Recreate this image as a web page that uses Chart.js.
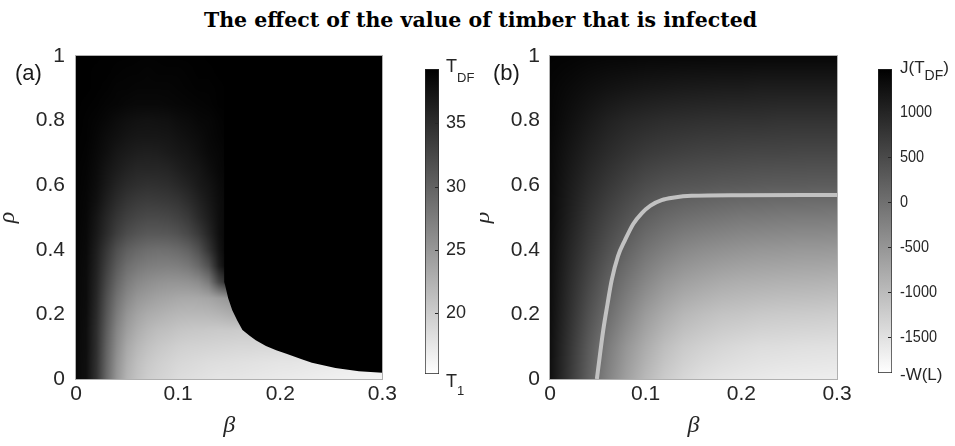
<!DOCTYPE html>
<html>
<head>
<meta charset="utf-8">
<script src="https://cdn.jsdelivr.net/npm/chart.js@4.4.1/dist/chart.umd.min.js"></script>
<style>
  body { margin: 0; background: #fff; width: 955px; height: 446px; position: relative; overflow: hidden; }
  canvas { position: absolute; top: 0; }
  #title { position: absolute; left: 3px; top: 5px; width: 955px; text-align: center;
           font: bold 20.5px 'DejaVu Serif', serif; line-height: 30px; color: #000; }
</style>
</head>
<body>
<div id="title">The effect of the value of timber that is infected</div>
<canvas id="panelA" width="400" height="446" style="left:0px"></canvas>
<canvas id="barA" width="80" height="446" style="left:400px"></canvas>
<canvas id="panelB" width="380" height="446" style="left:480px"></canvas>
<canvas id="barB" width="95" height="446" style="left:860px"></canvas>
<script>
// axis ticks
const betaTicks = [0, 0.1, 0.2, 0.3];
const rhoTicks = [0, 0.2, 0.4, 0.6, 0.8, 1];

// (a) T over (beta, rho); row 0 is rho = 0
const betaA = [0,0.01,0.02,0.03,0.04,0.05,0.06,0.07,0.08,0.09,0.1,0.11,0.12,0.13,0.14,0.15,0.16,0.17,0.18,0.19,0.2,0.21,0.22,0.23,0.24,0.25,0.26,0.27,0.28,0.29,0.3];
const rhoA = [0,0.05,0.1,0.15,0.2,0.25,0.3,0.35,0.4,0.45,0.5,0.55,0.6,0.65,0.7,0.75,0.8,0.85,0.9,0.95,1];
const tempA = [
  [38.5,37.9,34.6,29.4,25.1,22.3,20.9,19.9,19.4,19.0,18.5,18.3,18.1,17.9,17.7,17.7,17.6,17.5,17.4,17.3,17.2,17.1,17.0,16.9,16.8,16.7,16.6,16.5,16.4,16.3,16.2],
  [38.5,37.9,34.7,29.7,25.5,22.8,21.3,20.4,19.8,19.4,19.0,18.8,18.6,18.4,18.3,18.2,18.1,18.0,17.9,17.8,17.7,17.7,17.6,17.5,17.4,17.3,17.2,17.1,17.0,16.9,16.8],
  [38.5,38.0,34.9,30.0,26.1,23.4,22.0,21.1,20.5,20.1,19.7,19.5,19.4,19.3,19.2,19.1,19.0,19.0,18.9,18.9,18.8,18.8,18.7,18.7,18.6,18.6,18.5,18.5,18.4,18.4,18.3],
  [38.6,38.0,35.0,30.5,26.7,24.3,22.9,22.0,21.4,21.1,20.7,20.5,20.4,20.3,20.2,20.2,20.1,20.1,20.0,20.0,19.9,19.9,19.9,19.8,19.8,19.8,19.7,19.7,19.7,19.6,19.6],
  [38.6,38.1,35.3,31.1,27.6,25.2,23.9,23.1,22.7,22.3,22.0,21.9,21.9,22.0,22.3,22.8,23.2,23.2,23.2,23.2,23.2,23.2,23.2,23.2,23.2,23.2,23.2,23.2,23.2,23.2,23.2],
  [38.6,38.2,35.6,31.7,28.5,26.4,25.1,24.5,24.0,23.7,23.4,23.3,23.4,23.7,24.4,25.1,26.1,27.0,39.3,39.3,39.3,39.3,39.3,39.3,39.3,39.3,39.3,39.3,39.3,39.3,39.3],
  [38.7,38.2,35.9,32.5,29.6,27.6,26.5,25.9,25.5,25.3,25.3,25.5,26.1,27.8,32.7,35.5,39.3,39.3,39.3,39.3,39.3,39.3,39.3,39.3,39.3,39.3,39.3,39.3,39.3,39.3,39.3],
  [38.7,38.3,36.2,33.3,30.7,28.9,28.0,27.5,27.3,27.2,27.4,28.0,29.4,31.7,36.5,39.3,39.3,39.3,39.3,39.3,39.3,39.3,39.3,39.3,39.3,39.3,39.3,39.3,39.3,39.3,39.3],
  [38.8,38.4,36.5,34.1,31.8,30.3,29.5,29.0,28.8,28.9,29.3,30.1,31.7,34.4,37.4,39.3,39.3,39.3,39.3,39.3,39.3,39.3,39.3,39.3,39.3,39.3,39.3,39.3,39.3,39.3,39.3],
  [38.9,38.5,37.0,35.2,33.4,32.1,31.4,31.0,31.0,31.1,31.6,32.5,33.9,35.8,37.9,39.0,39.3,39.3,39.3,39.3,39.3,39.3,39.3,39.3,39.3,39.3,39.3,39.3,39.3,39.3,39.3],
  [39.0,38.6,37.3,35.7,34.3,33.3,32.7,32.4,32.4,32.6,33.1,33.9,35.3,36.6,38.0,38.8,39.1,39.3,39.3,39.3,39.3,39.3,39.3,39.3,39.3,39.3,39.3,39.3,39.3,39.3,39.3],
  [39.0,38.7,37.8,36.4,35.2,34.3,33.8,33.6,33.7,33.9,34.3,35.1,36.1,37.1,38.1,38.7,39.2,39.3,39.3,39.3,39.3,39.3,39.3,39.3,39.3,39.3,39.3,39.3,39.3,39.3,39.3],
  [39.1,38.8,38.1,37.0,36.0,35.3,34.9,34.7,34.8,35.0,35.5,36.1,36.9,37.5,38.3,38.8,39.2,39.3,39.3,39.3,39.3,39.3,39.3,39.3,39.3,39.3,39.3,39.3,39.3,39.3,39.3],
  [39.1,38.9,38.3,37.4,36.7,36.1,35.7,35.7,35.7,35.9,36.4,36.9,37.3,38.0,38.6,38.9,39.2,39.3,39.3,39.3,39.3,39.3,39.3,39.3,39.3,39.3,39.3,39.3,39.3,39.3,39.3],
  [39.2,39.0,38.5,37.9,37.2,36.8,36.5,36.4,36.5,36.8,37.1,37.4,37.9,38.4,38.7,39.0,39.2,39.3,39.3,39.3,39.3,39.3,39.3,39.3,39.3,39.3,39.3,39.3,39.3,39.3,39.3],
  [39.2,39.1,38.7,38.2,37.8,37.4,37.2,37.2,37.2,37.3,37.6,37.9,38.2,38.6,38.9,39.1,39.2,39.3,39.3,39.3,39.3,39.3,39.3,39.3,39.3,39.3,39.3,39.3,39.3,39.3,39.3],
  [39.3,39.1,38.9,38.6,38.2,37.9,37.7,37.6,37.7,37.8,38.1,38.3,38.6,38.7,39.0,39.2,39.3,39.3,39.3,39.3,39.3,39.3,39.3,39.3,39.3,39.3,39.3,39.3,39.3,39.3,39.3],
  [39.3,39.2,39.1,38.9,38.8,38.6,38.5,38.5,38.5,38.6,38.7,38.8,38.9,39.0,39.2,39.2,39.3,39.3,39.3,39.3,39.3,39.3,39.3,39.3,39.3,39.3,39.3,39.3,39.3,39.3,39.3],
  [39.3,39.3,39.2,39.1,38.9,38.9,38.8,38.8,38.8,38.8,38.9,39.0,39.1,39.1,39.2,39.3,39.3,39.3,39.3,39.3,39.3,39.3,39.3,39.3,39.3,39.3,39.3,39.3,39.3,39.3,39.3],
  [39.3,39.3,39.2,39.2,39.1,39.0,39.0,38.9,39.0,39.0,39.0,39.1,39.2,39.2,39.3,39.3,39.3,39.3,39.3,39.3,39.3,39.3,39.3,39.3,39.3,39.3,39.3,39.3,39.3,39.3,39.3],
  [39.3,39.3,39.3,39.2,39.2,39.2,39.1,39.1,39.1,39.2,39.2,39.2,39.2,39.3,39.3,39.3,39.3,39.3,39.3,39.3,39.3,39.3,39.3,39.3,39.3,39.3,39.3,39.3,39.3,39.3,39.3]
];
// sharp lower edge of the T_DF region
const edgeBeta = [0.145,0.146,0.149,0.153,0.158,0.163,0.17,0.176,0.186,0.196,0.206,0.221,0.231,0.254,0.277,0.3];
const edgeRho  = [0.30,0.29,0.25,0.213,0.18,0.152,0.134,0.12,0.102,0.089,0.078,0.061,0.05,0.034,0.024,0.019];
const tRange = [15.2, 39.3];
const tTicks = [20, 25, 30, 35];

// (b) J over (beta, rho); row 0 is rho = 0
const betaB = [0,0.02,0.04,0.06,0.08,0.1,0.12,0.14,0.16,0.18,0.2,0.22,0.24,0.26,0.28,0.3];
const rhoB = [0,0.1,0.2,0.3,0.4,0.5,0.6,0.7,0.8,0.9,1];
const profitB = [
  [1280,750,220,-240,-640,-970,-1210,-1370,-1480,-1540,-1580,-1610,-1640,-1650,-1660,-1670],
  [1290,790,290,-140,-510,-800,-1040,-1200,-1290,-1360,-1410,-1450,-1460,-1480,-1490,-1500],
  [1310,860,420,50,-280,-580,-790,-950,-1040,-1110,-1140,-1180,-1200,-1210,-1220,-1240],
  [1320,920,550,220,-60,-310,-510,-640,-720,-790,-830,-850,-870,-880,-890,-910],
  [1330,990,680,410,170,-50,-200,-320,-390,-440,-480,-510,-520,-540,-540,-550],
  [1350,1070,800,580,390,220,100,20,-30,-70,-110,-120,-140,-150,-150,-160],
  [1360,1130,920,750,600,470,390,350,330,300,290,270,260,260,250,250],
  [1370,1200,1040,910,800,710,660,620,590,580,560,550,550,540,540,540],
  [1400,1280,1160,1050,970,920,880,860,840,830,820,820,800,800,800,800],
  [1410,1350,1290,1240,1200,1170,1150,1130,1120,1110,1110,1090,1090,1090,1090,1090],
  [1440,1430,1410,1400,1400,1390,1390,1390,1390,1390,1390,1390,1390,1390,1390,1390]
];
const curveBeta = [0.049,0.052,0.0557,0.06,0.0645,0.071,0.0784,0.087,0.0958,0.105,0.1167,0.13,0.148,0.2,0.3];
const curveRho  = [0,0.07,0.152,0.23,0.306,0.38,0.43,0.48,0.513,0.537,0.554,0.562,0.567,0.569,0.57];
const jRange = [-1900, 1478];
const jTicks = [-1500, -1000, -500, 0, 500, 1000];

Chart.defaults.font.family = "'Liberation Sans', Arial, sans-serif";
Chart.defaults.color = '#262626';

function shade(v, range) {
  const f = (range[1] - v) / (range[1] - range[0]);
  return Math.round(255 * Math.min(1, Math.max(0, f)));
}

// paints the grid pixel by pixel, reading positions back through the x / y scales
function heatmap(xs, ys, grid, range) {
  const locate = (v, arr) => {
    const n = arr.length;
    let f = (v - arr[0]) / (arr[n - 1] - arr[0]) * (n - 1);
    f = Math.min(n - 1, Math.max(0, f));
    const i = Math.min(n - 2, Math.floor(f));
    return [i, f - i];
  };
  return {
    id: 'heatmap',
    beforeDatasetsDraw(chart) {
      const {ctx, chartArea: a, scales: {x, y}} = chart;
      const x0 = Math.round(a.left), y0 = Math.round(a.top);
      const w = Math.round(a.right) - x0, h = Math.round(a.bottom) - y0;
      const img = ctx.createImageData(w, h);
      const cols = [];
      for (let px = 0; px < w; px++) cols.push(locate(x.getValueForPixel(x0 + px + 0.5), xs));
      for (let py = 0; py < h; py++) {
        const [j, ty] = locate(y.getValueForPixel(y0 + py + 0.5), ys);
        const lo = grid[j], hi = grid[j + 1];
        for (let px = 0; px < w; px++) {
          const [i, tx] = cols[px];
          const v = (lo[i] * (1 - tx) + lo[i + 1] * tx) * (1 - ty) + (hi[i] * (1 - tx) + hi[i + 1] * tx) * ty;
          const g = shade(v, range);
          const k = (py * w + px) * 4;
          img.data[k] = g; img.data[k + 1] = g; img.data[k + 2] = g; img.data[k + 3] = 255;
        }
      }
      ctx.putImageData(img, x0, y0);
    }
  };
}

function frame(tag, tx, ty) {
  return {
    id: 'frame',
    afterDatasetsDraw(chart) {
      const {ctx, chartArea: a} = chart;
      ctx.save();
      ctx.strokeStyle = '#b0b0b0';
      ctx.lineWidth = 1;
      ctx.strokeRect(Math.round(a.left) - 0.5, Math.round(a.top) - 0.5, Math.round(a.width) + 1, Math.round(a.height) + 1);
      ctx.restore();
    },
    afterDraw(chart) {
      const ctx = chart.ctx;
      ctx.save();
      ctx.fillStyle = '#1a1a1a';
      ctx.font = "22px 'Liberation Sans', Arial, sans-serif";
      ctx.textBaseline = 'alphabetic';
      ctx.fillText(tag, tx, ty);
      ctx.restore();
    }
  };
}

function panelScales(yWidth, yPad, rhoLine) {
  return {
    x: {
      type: 'linear', min: 0, max: 0.3,
      afterBuildTicks: s => { s.ticks = betaTicks.map(v => ({value: v})); },
      afterFit: s => { s.height = 67; },
      grid: {display: false, drawTicks: false},
      border: {display: false},
      ticks: {font: {size: 21}, padding: 3, maxRotation: 0, autoSkip: false, callback: v => String(v)},
      title: {display: true, text: 'β', color: '#262626',
              font: {family: "'Liberation Serif', serif", style: 'italic', size: 24},
              padding: {top: 0, bottom: 6}}
    },
    y: {
      type: 'linear', min: 0, max: 1,
      afterBuildTicks: s => { s.ticks = rhoTicks.map(v => ({value: v})); },
      afterFit: s => { s.width = yWidth; },
      grid: {display: false, drawTicks: false},
      border: {display: false},
      ticks: {font: {size: 21}, padding: yPad, autoSkip: false, callback: v => String(v)},
      title: {display: true, text: 'ρ', color: '#262626',
              font: {family: "'Liberation Serif', serif", style: 'italic', size: 24, lineHeight: rhoLine},
              padding: 0}
    }
  };
}

new Chart(document.getElementById('panelA'), {
  type: 'line',
  data: {
    datasets: [{
      label: 'T_DF region',
      data: edgeBeta.map((b, i) => ({x: b, y: edgeRho[i]})),
      fill: 'end',
      backgroundColor: '#000',
      borderColor: '#000',
      borderWidth: 0,
      pointRadius: 0,
      tension: 0
    }]
  },
  options: {
    responsive: false, animation: false,
    layout: {padding: {left: 0, right: 16, top: 56, bottom: 0}},
    plugins: {legend: {display: false}, tooltip: {enabled: false}},
    scales: panelScales(76, 11, 0.6)
  },
  plugins: [heatmap(betaA, rhoA, tempA, tRange), frame('(a)', 15, 80)]
});

new Chart(document.getElementById('panelB'), {
  type: 'line',
  data: {
    datasets: [{
      label: 'threshold',
      data: curveBeta.map((b, i) => ({x: b, y: curveRho[i]})),
      borderColor: '#c2c2c2',
      borderWidth: 4,
      pointRadius: 0,
      fill: false,
      cubicInterpolationMode: 'monotone'
    }]
  },
  options: {
    responsive: false, animation: false,
    layout: {padding: {left: 0, right: 23, top: 56, bottom: 0}},
    plugins: {legend: {display: false}, tooltip: {enabled: false}},
    scales: panelScales(70, 10, 0.25)
  },
  plugins: [heatmap(betaB, rhoB, profitB, jRange), frame('(b)', 13, 80)]
});

// colour bars
function barGradient(chart) {
  const a = chart.chartArea;
  if (!a) return '#888';
  const g = chart.ctx.createLinearGradient(0, a.bottom, 0, a.top);
  g.addColorStop(0, '#ffffff');
  g.addColorStop(1, '#000000');
  return g;
}

function barLabels(ticks, cfg) {
  return {
    id: 'barLabels',
    afterDraw(chart) {
      const {ctx, chartArea: a, scales: {y}} = chart;
      ctx.save();
      ctx.fillStyle = '#262626';
      ctx.strokeStyle = '#262626';
      ctx.lineWidth = 1;
      ctx.textAlign = 'left';
      ctx.textBaseline = 'middle';
      ticks.forEach(v => {
        const py = Math.round(y.getPixelForValue(v)) + 0.5;
        ctx.beginPath();
        ctx.moveTo(a.right - 4, py);
        ctx.lineTo(a.right - 1, py);
        ctx.stroke();
        ctx.save();
        ctx.translate(a.right + cfg.gap, py);
        ctx.scale(cfg.squeeze, 1);
        ctx.font = cfg.size + "px 'Liberation Sans', Arial, sans-serif";
        ctx.fillText(String(v), 0, 0);
        ctx.restore();
      });
      ctx.textBaseline = 'alphabetic';
      const put = (parts, y0) => {
        let px = a.right + cfg.gap;
        parts.forEach(([txt, size, dy]) => {
          ctx.font = size + "px 'Liberation Sans', Arial, sans-serif";
          ctx.fillText(txt, px, y0 + dy);
          px += ctx.measureText(txt).width;
        });
      };
      put(cfg.top, a.top);
      put(cfg.bottom, a.bottom);
      ctx.restore();
    }
  };
}

function colorbar(id, range, ticks, pad, cfg) {
  new Chart(document.getElementById(id), {
    type: 'bar',
    data: {
      labels: [''],
      datasets: [{
        data: [range],
        backgroundColor: c => barGradient(c.chart),
        borderColor: '#262626',
        borderWidth: 1,
        borderSkipped: false,
        barPercentage: 1,
        categoryPercentage: 1
      }]
    },
    options: {
      responsive: false, animation: false,
      layout: {padding: pad},
      plugins: {legend: {display: false}, tooltip: {enabled: false}},
      scales: {
        x: {display: false},
        y: {display: false, min: range[0], max: range[1]}
      }
    },
    plugins: [barLabels(ticks, cfg)]
  });
}

colorbar('barA', tRange, tTicks, {left: 25, right: 41, top: 69, bottom: 72},
  {gap: 7, size: 18, squeeze: 1,
   top: [['T', 18, 3], ['DF', 13, 13]],
   bottom: [['T', 18, 13], ['1', 13, 21]]});

colorbar('barB', jRange, jTicks, {left: 18, right: 63, top: 69, bottom: 73},
  {gap: 8, size: 17, squeeze: 0.85,
   top: [['J(T', 17, 4], ['DF', 14, 11], [')', 17, 4]],
   bottom: [['-W(L)', 17, 7]]});
</script>
</body>
</html>
